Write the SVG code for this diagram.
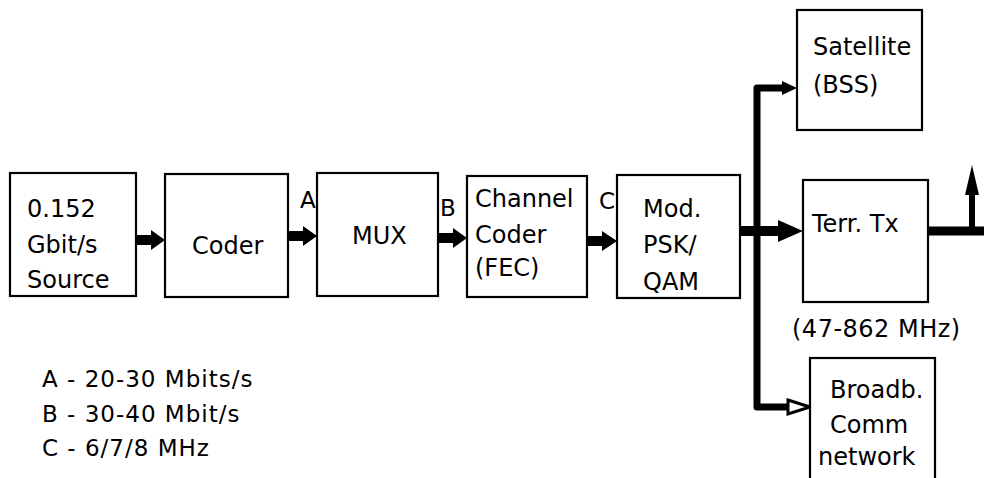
<svg xmlns="http://www.w3.org/2000/svg" width="984" height="478" viewBox="0 0 984 478">
  <style>
    .box { fill: #fff; stroke: #000; stroke-width: 2.2; }
    .t { font-family: "DejaVu Sans", "Liberation Sans", sans-serif; font-size: 24px; fill: #000; }
    .lbl { font-family: "DejaVu Sans", "Liberation Sans", sans-serif; font-size: 23px; letter-spacing: 1px; fill: #000; }
    .bus { fill: none; stroke: #000; stroke-width: 7; stroke-linejoin: round; }
  </style>
  <rect width="984" height="478" fill="#fff"/>

  <g id="connectors">
    <!-- chain arrows -->
    <polygon points="136,235 151,235 151,230 165,240 151,250 151,245 136,245" fill="#000"/>
    <polygon points="288,231 303,231 303,226 317,236 303,246 303,241 288,241" fill="#000"/>
    <polygon points="438,233 453,233 453,228 467,238 453,248 453,243 438,243" fill="#000"/>
    <polygon points="587,236 602,236 602,231 617,241 602,251 602,246 587,246" fill="#000"/>
    <!-- fan-out from modulator -->
    <line x1="740" y1="231" x2="780" y2="231" stroke="#000" stroke-width="10"/>
    <polygon points="778,220 803,231 778,242" fill="#000"/>
    <path class="bus" d="M757,231 V88 H784"/>
    <polygon points="782,81 797,88 782,95" fill="#000"/>
    <path class="bus" d="M757,231 V407 H792"/>
    <polygon points="788,400 810,407 788,414" fill="#fff" stroke="#000" stroke-width="3"/>
    <!-- transmitter output and antenna -->
    <line x1="928" y1="231" x2="984" y2="231" stroke="#000" stroke-width="9"/>
    <line x1="972" y1="235" x2="972" y2="190" stroke="#000" stroke-width="6"/>
    <polygon points="965,195 972,165 979,195" fill="#000"/>
  </g>

  <g id="source">
    <rect class="box" x="10" y="173" width="126" height="123"/>
    <text class="t" x="27" y="217">0.152</text>
    <text class="t" x="27" y="253">Gbit/s</text>
    <text class="t" x="27" y="288">Source</text>
  </g>
  <g id="coder">
    <rect class="box" x="165" y="174" width="123" height="123"/>
    <text class="t" x="192" y="254">Coder</text>
  </g>
  <g id="mux">
    <rect class="box" x="317" y="173" width="121" height="123"/>
    <text class="t" x="352" y="244">MUX</text>
  </g>
  <g id="channel-coder">
    <rect class="box" x="467" y="176" width="120" height="121"/>
    <text class="t" x="475" y="207">Channel</text>
    <text class="t" x="475" y="243">Coder</text>
    <text class="t" x="475" y="276">(FEC)</text>
  </g>
  <g id="modulator">
    <rect class="box" x="617" y="175" width="123" height="123"/>
    <text class="t" x="643" y="217">Mod.</text>
    <text class="t" x="643" y="253">PSK/</text>
    <text class="t" x="643" y="290">QAM</text>
  </g>
  <g id="satellite">
    <rect class="box" x="797" y="10" width="125" height="120"/>
    <text class="t" x="813" y="55">Satellite</text>
    <text class="t" x="813" y="93">(BSS)</text>
  </g>
  <g id="terrestrial">
    <rect class="box" x="803" y="180" width="125" height="122"/>
    <text class="t" x="812" y="232">Terr. Tx</text>
  </g>
  <g id="broadband">
    <rect class="box" x="810" y="358" width="125" height="125"/>
    <text class="t" x="830" y="398">Broadb.</text>
    <text class="t" x="830" y="433">Comm</text>
    <text class="t" x="818" y="465">network</text>
  </g>

  <g id="labels">
    <text class="lbl" x="300" y="208">A</text>
    <text class="lbl" x="440" y="216">B</text>
    <text class="lbl" x="599" y="209">C</text>
    <text class="t" x="792" y="337" letter-spacing="0.5">(47-862 MHz)</text>
    <text class="lbl" x="42" y="387">A - 20-30 Mbits/s</text>
    <text class="lbl" x="42" y="422">B - 30-40 Mbit/s</text>
    <text class="lbl" x="42" y="456">C - 6/7/8 MHz</text>
  </g>
</svg>
